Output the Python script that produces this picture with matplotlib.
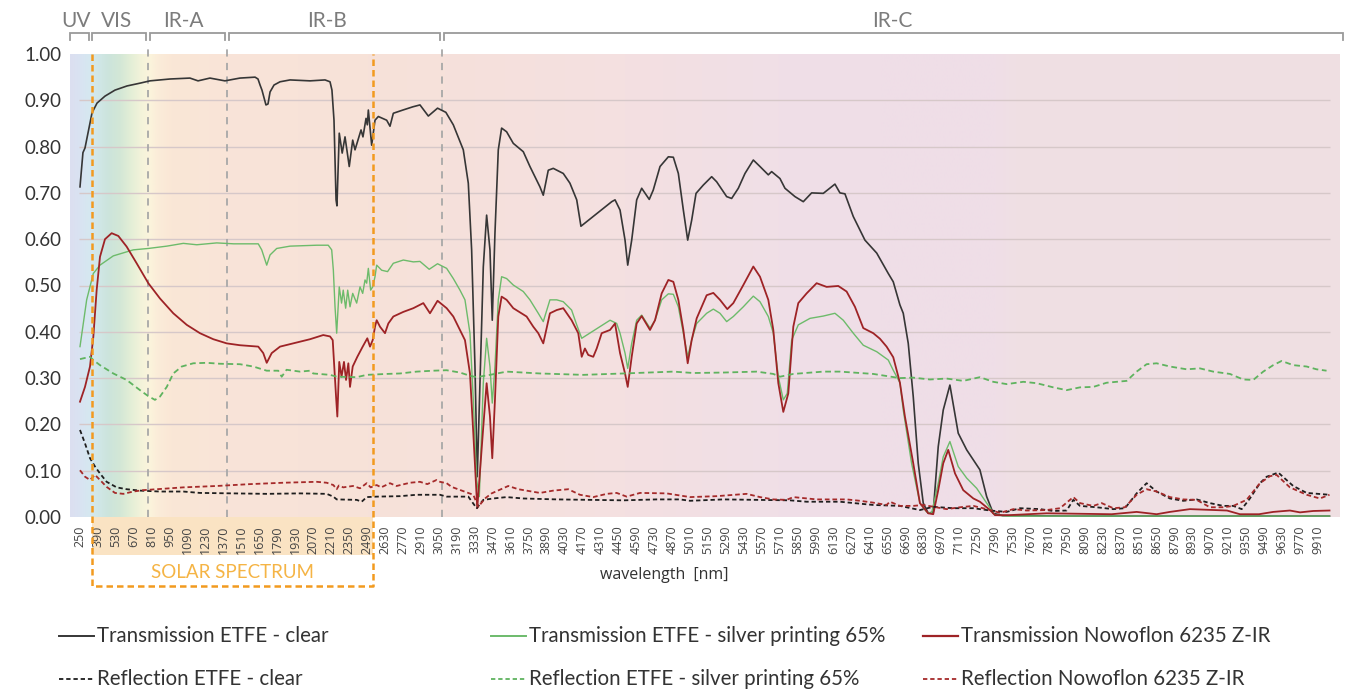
import numpy as np
import matplotlib
matplotlib.use("Agg")
import matplotlib.pyplot as plt
from matplotlib.colors import to_rgb

# ---------------------------------------------------------------------------
# Spectral data: wavelength [nm] -> fraction of incident radiation
# ---------------------------------------------------------------------------
t_clear_wl = [250, 273, 289, 312, 344, 383, 445, 523, 617, 718, 796, 952, 1108, 1171, 1264,
              1381, 1498, 1616, 1639, 1655, 1670, 1686, 1701, 1717, 1733, 1764, 1811, 1889,
              2045, 2162, 2201, 2216, 2232, 2240, 2248, 2255, 2273, 2296, 2318, 2351, 2378,
              2396, 2443, 2458, 2482, 2492, 2500, 2526, 2552, 2578, 2643, 2669, 2695, 2770,
              2848, 2903, 2968, 3040, 3105, 3163, 3215, 3241, 3280, 3306, 3332, 3350, 3397,
              3423, 3449, 3467, 3488, 3514, 3540, 3579, 3631, 3709, 3761, 3839, 3865, 3904,
              3943, 4021, 4073, 4126, 4159, 4399, 4425, 4464, 4503, 4524, 4555, 4594, 4633,
              4692, 4723, 4776, 4841, 4880, 4919, 4958, 4992, 5023, 5057, 5114, 5179, 5218,
              5296, 5335, 5387, 5439, 5504, 5556, 5621, 5647, 5712, 5751, 5829, 5894, 5959,
              6050, 6141, 6180, 6219, 6284, 6375, 6467, 6557, 6596, 6648, 6674, 6713, 6752,
              6791, 6830, 6869, 6908, 6947, 6986, 7038, 7103, 7169, 7272, 7325, 7376, 7450,
              8000, 9000, 10000]
t_clear = [0.713, 0.787, 0.797, 0.829, 0.873, 0.894, 0.909, 0.922, 0.931, 0.937, 0.942, 0.946,
           0.948, 0.942, 0.948, 0.942, 0.948, 0.950, 0.946, 0.933, 0.922, 0.905, 0.890, 0.892,
           0.918, 0.933, 0.940, 0.944, 0.942, 0.944, 0.940, 0.922, 0.857, 0.771, 0.685, 0.672,
           0.829, 0.786, 0.821, 0.757, 0.814, 0.793, 0.836, 0.821, 0.861, 0.847, 0.879, 0.803,
           0.857, 0.865, 0.857, 0.844, 0.872, 0.879, 0.886, 0.890, 0.866, 0.883, 0.874, 0.847,
           0.811, 0.793, 0.721, 0.577, 0.325, 0.087, 0.540, 0.652, 0.577, 0.425, 0.613, 0.793,
           0.840, 0.832, 0.807, 0.789, 0.757, 0.713, 0.695, 0.749, 0.753, 0.742, 0.721, 0.685,
           0.628, 0.681, 0.685, 0.663, 0.598, 0.544, 0.598, 0.685, 0.710, 0.686, 0.706, 0.757,
           0.778, 0.777, 0.742, 0.663, 0.598, 0.641, 0.699, 0.717, 0.735, 0.724, 0.692, 0.688,
           0.710, 0.742, 0.771, 0.757, 0.739, 0.746, 0.731, 0.710, 0.692, 0.681, 0.700, 0.699,
           0.719, 0.700, 0.698, 0.649, 0.598, 0.570, 0.526, 0.508, 0.458, 0.440, 0.375, 0.260,
           0.116, 0.030, 0.008, 0.011, 0.152, 0.231, 0.285, 0.181, 0.145, 0.102, 0.044, 0.008,
           0.003, 0.002, 0.002, 0.002]

t_silver_wl = [250, 302, 354, 406, 510, 666, 783, 927, 1056, 1161, 1317, 1450, 1641, 1668, 1694,
               1707, 1733, 1785, 1889, 2097, 2187, 2214, 2227, 2240, 2253, 2273, 2291, 2304,
               2323, 2339, 2357, 2378, 2409, 2435, 2456, 2474, 2487, 2500, 2518, 2534, 2552,
               2565, 2604, 2650, 2695, 2773, 2851, 2903, 2975, 3040, 3111, 3163, 3215, 3254,
               3293, 3319, 3345, 3366, 3397, 3423, 3449, 3467, 3488, 3514, 3540, 3579, 3631,
               3709, 3761, 3826, 3865, 3917, 3970, 4021, 4086, 4126, 4165, 4386, 4438, 4464,
               4503, 4524, 4555, 4594, 4633, 4698, 4737, 4789, 4841, 4880, 4919, 4958, 4992,
               5023, 5062, 5140, 5192, 5244, 5296, 5348, 5426, 5504, 5556, 5621, 5660, 5699,
               5738, 5769, 5803, 5855, 5946, 6050, 6141, 6206, 6284, 6362, 6467, 6557, 6596,
               6648, 6674, 6739, 6804, 6856, 6895, 6947, 6986, 7038, 7103, 7169, 7247, 7325,
               7390, 7500, 8500, 10000]
t_silver = [0.368, 0.469, 0.526, 0.544, 0.564, 0.577, 0.580, 0.585, 0.591, 0.588, 0.592, 0.590,
            0.590, 0.577, 0.555, 0.544, 0.566, 0.580, 0.585, 0.587, 0.587, 0.577, 0.533, 0.454,
            0.397, 0.497, 0.462, 0.490, 0.451, 0.490, 0.454, 0.483, 0.462, 0.497, 0.483, 0.512,
            0.505, 0.537, 0.490, 0.497, 0.519, 0.544, 0.533, 0.530, 0.548, 0.555, 0.551, 0.552,
            0.535, 0.547, 0.537, 0.515, 0.490, 0.469, 0.397, 0.253, 0.080, 0.044, 0.289, 0.386,
            0.325, 0.246, 0.325, 0.469, 0.519, 0.515, 0.501, 0.487, 0.469, 0.440, 0.422, 0.469,
            0.469, 0.465, 0.447, 0.415, 0.386, 0.425, 0.418, 0.397, 0.354, 0.321, 0.375, 0.425,
            0.436, 0.408, 0.425, 0.469, 0.482, 0.481, 0.454, 0.397, 0.346, 0.382, 0.418, 0.440,
            0.449, 0.440, 0.422, 0.433, 0.454, 0.477, 0.465, 0.433, 0.397, 0.303, 0.253, 0.267,
            0.382, 0.415, 0.429, 0.434, 0.440, 0.425, 0.397, 0.371, 0.357, 0.339, 0.317, 0.290,
            0.231, 0.116, 0.030, 0.011, 0.008, 0.073, 0.130, 0.163, 0.109, 0.084, 0.062, 0.030,
            0.004, 0.002, 0.002, 0.002]

t_nowo_wl = [250, 289, 328, 354, 380, 406, 445, 497, 549, 614, 692, 783, 874, 978, 1083, 1186,
             1290, 1395, 1498, 1641, 1680, 1707, 1746, 1811, 1914, 2045, 2148, 2201, 2222, 2234,
             2248, 2258, 2273, 2291, 2310, 2326, 2344, 2357, 2378, 2414, 2456, 2492, 2513, 2534,
             2552, 2565, 2591, 2630, 2656, 2695, 2773, 2851, 2929, 2981, 3040, 3111, 3163, 3215,
             3254, 3293, 3319, 3350, 3397, 3423, 3449, 3467, 3488, 3514, 3540, 3579, 3631, 3735,
             3787, 3826, 3865, 3917, 3970, 4021, 4086, 4138, 4165, 4190, 4216, 4255, 4282, 4321,
             4386, 4425, 4464, 4503, 4524, 4555, 4594, 4633, 4698, 4737, 4789, 4841, 4880, 4919,
             4958, 4992, 5023, 5062, 5140, 5192, 5244, 5301, 5348, 5426, 5504, 5556, 5621, 5660,
             5699, 5738, 5777, 5816, 5855, 5920, 5998, 6076, 6167, 6232, 6297, 6362, 6440, 6492,
             6544, 6596, 6648, 6687, 6752, 6804, 6869, 6908, 6947, 6986, 7025, 7078, 7142, 7221,
             7272, 7351, 7390, 7500, 7793, 8300, 8495, 8651, 8755, 8911, 9093, 9200, 9301, 9450,
             9561, 9691, 9770, 9873, 10000]
t_nowo = [0.249, 0.281, 0.325, 0.389, 0.490, 0.562, 0.600, 0.613, 0.607, 0.584, 0.548, 0.505,
          0.472, 0.440, 0.415, 0.397, 0.384, 0.375, 0.371, 0.368, 0.354, 0.333, 0.354, 0.368,
          0.375, 0.384, 0.393, 0.390, 0.382, 0.325, 0.260, 0.217, 0.335, 0.303, 0.335, 0.296,
          0.332, 0.281, 0.325, 0.346, 0.368, 0.386, 0.368, 0.382, 0.411, 0.425, 0.411, 0.397,
          0.418, 0.433, 0.443, 0.451, 0.462, 0.440, 0.467, 0.451, 0.433, 0.404, 0.382, 0.310,
          0.181, 0.019, 0.195, 0.289, 0.217, 0.127, 0.253, 0.433, 0.476, 0.469, 0.451, 0.433,
          0.411, 0.397, 0.375, 0.440, 0.447, 0.451, 0.425, 0.397, 0.346, 0.364, 0.350, 0.346,
          0.364, 0.397, 0.404, 0.418, 0.354, 0.310, 0.281, 0.346, 0.418, 0.434, 0.404, 0.425,
          0.483, 0.512, 0.508, 0.469, 0.404, 0.332, 0.382, 0.429, 0.479, 0.484, 0.469, 0.449,
          0.462, 0.501, 0.541, 0.519, 0.469, 0.404, 0.289, 0.227, 0.267, 0.411, 0.462, 0.483,
          0.505, 0.497, 0.499, 0.487, 0.454, 0.408, 0.397, 0.385, 0.368, 0.345, 0.290, 0.217,
          0.116, 0.030, 0.008, 0.006, 0.058, 0.116, 0.145, 0.094, 0.058, 0.040, 0.033, 0.015,
          0.004, 0.004, 0.008, 0.006, 0.011, 0.006, 0.011, 0.017, 0.015, 0.014, 0.006, 0.006,
          0.011, 0.014, 0.010, 0.013, 0.014]

r_clear_wl = [250, 289, 328, 367, 406, 458, 536, 614, 718, 874, 1056, 1186, 1446, 1707, 1967,
              2175, 2227, 2253, 2409, 2448, 2487, 2565, 2747, 2877, 3007, 3059, 3111, 3189, 3280,
              3345, 3397, 3475, 3579, 3709, 3970, 4230, 4490, 4750, 4932, 5010, 5270, 5530, 5790,
              5920, 6180, 6440, 6648, 6804, 6908, 7064, 7221, 7351, 7481, 7585, 7741, 7845, 7949,
              8001, 8053, 8183, 8313, 8404, 8495, 8573, 8651, 8755, 8859, 8963, 9067, 9171, 9249,
              9315, 9379, 9457, 9510, 9600, 9717, 9822, 10000]
r_clear = [0.188, 0.159, 0.127, 0.109, 0.094, 0.076, 0.064, 0.060, 0.057, 0.055, 0.055, 0.052,
           0.051, 0.050, 0.051, 0.050, 0.044, 0.038, 0.037, 0.033, 0.043, 0.044, 0.045, 0.048,
           0.048, 0.048, 0.044, 0.044, 0.044, 0.019, 0.037, 0.040, 0.043, 0.040, 0.038, 0.037,
           0.036, 0.038, 0.038, 0.035, 0.038, 0.037, 0.036, 0.033, 0.033, 0.026, 0.024, 0.015,
           0.022, 0.019, 0.019, 0.014, 0.011, 0.019, 0.017, 0.013, 0.014, 0.037, 0.024, 0.021,
           0.017, 0.019, 0.051, 0.073, 0.055, 0.040, 0.035, 0.038, 0.030, 0.024, 0.024, 0.017,
           0.040, 0.073, 0.087, 0.096, 0.067, 0.052, 0.048]

r_silver_wl = [250, 328, 354, 406, 510, 614, 718, 783, 835, 874, 927, 978, 1044, 1134, 1239,
               1342, 1498, 1602, 1707, 1797, 1824, 1862, 1967, 2045, 2070, 2201, 2253, 2409,
               2487, 2643, 2747, 2877, 3007, 3111, 3215, 3293, 3345, 3449, 3579, 3839, 4177,
               4490, 4880, 5036, 5270, 5530, 5660, 5712, 5816, 6050, 6180, 6440, 6648, 6752,
               6882, 7012, 7142, 7272, 7376, 7481, 7611, 7715, 7845, 7949, 8053, 8157, 8261,
               8417, 8495, 8573, 8651, 8755, 8885, 8989, 9093, 9223, 9327, 9405, 9483, 9561,
               9626, 9717, 9822, 9899, 9977]
r_silver = [0.341, 0.346, 0.339, 0.328, 0.310, 0.296, 0.274, 0.261, 0.253, 0.260, 0.281, 0.310,
            0.325, 0.332, 0.333, 0.331, 0.330, 0.325, 0.316, 0.316, 0.303, 0.318, 0.314, 0.316,
            0.310, 0.307, 0.303, 0.302, 0.307, 0.309, 0.310, 0.314, 0.316, 0.317, 0.312, 0.305,
            0.302, 0.307, 0.314, 0.310, 0.307, 0.310, 0.314, 0.311, 0.312, 0.314, 0.309, 0.303,
            0.309, 0.314, 0.314, 0.309, 0.300, 0.301, 0.297, 0.299, 0.294, 0.302, 0.292, 0.287,
            0.292, 0.289, 0.280, 0.274, 0.280, 0.281, 0.290, 0.294, 0.314, 0.330, 0.332, 0.325,
            0.319, 0.321, 0.314, 0.309, 0.297, 0.296, 0.314, 0.328, 0.337, 0.328, 0.325, 0.319,
            0.316]

r_nowo_wl = [250, 289, 328, 367, 406, 458, 523, 588, 666, 744, 848, 1056, 1317, 1576, 1836, 2097,
             2175, 2227, 2253, 2270, 2304, 2380, 2435, 2487, 2518, 2565, 2600, 2669, 2720, 2825,
             2903, 2960, 3033, 3059, 3111, 3150, 3319, 3358, 3410, 3462, 3592, 3670, 3839, 3943,
             4060, 4151, 4255, 4360, 4438, 4516, 4620, 4828, 5010, 5218, 5452, 5556, 5660, 5764,
             5816, 5998, 6232, 6336, 6440, 6544, 6570, 6648, 6752, 6830, 7012, 7116, 7221, 7325,
             7429, 7533, 7637, 7793, 7897, 8001, 8053, 8157, 8222, 8313, 8404, 8495, 8573, 8651,
             8755, 8859, 8963, 9067, 9171, 9249, 9353, 9457, 9535, 9587, 9691, 9822, 9925, 10000]
r_nowo = [0.101, 0.087, 0.080, 0.091, 0.080, 0.065, 0.052, 0.050, 0.055, 0.058, 0.060, 0.064,
          0.067, 0.071, 0.074, 0.076, 0.074, 0.069, 0.060, 0.068, 0.064, 0.067, 0.062, 0.073,
          0.064, 0.069, 0.064, 0.073, 0.067, 0.074, 0.076, 0.071, 0.080, 0.076, 0.073, 0.065,
          0.048, 0.022, 0.040, 0.051, 0.067, 0.060, 0.052, 0.057, 0.060, 0.048, 0.043, 0.050,
          0.052, 0.044, 0.052, 0.051, 0.043, 0.045, 0.050, 0.043, 0.038, 0.037, 0.043, 0.038,
          0.038, 0.035, 0.031, 0.026, 0.033, 0.024, 0.024, 0.026, 0.017, 0.021, 0.024, 0.017,
          0.009, 0.017, 0.014, 0.015, 0.019, 0.043, 0.030, 0.024, 0.030, 0.019, 0.021, 0.048,
          0.060, 0.055, 0.043, 0.038, 0.037, 0.021, 0.021, 0.024, 0.037, 0.073, 0.088, 0.091,
          0.064, 0.048, 0.040, 0.048]

series_labels = ["Transmission ETFE - clear",
                 "Transmission ETFE - silver printing 65%",
                 "Transmission Nowoflon 6235 Z-IR",
                 "Reflection ETFE - clear",
                 "Reflection ETFE - silver printing 65%",
                 "Reflection Nowoflon 6235 Z-IR"]

# Spectral bands shown above the plot: (label, start, end) in nm
band_names = ["UV", "VIS", "IR-A", "IR-B", "IR-C"]
band_ranges = [(172, 320), (344, 765), (796, 1381), (1413, 3059), (3090, 10105)]
band_label_x = [219, 539, 1054, 2177, 6586]
band_limits = [780, 1400, 3075]          # dashed separators
solar_range = (340, 2540)                 # solar spectrum box

tick_wl = list(range(250, 9911, 140))
ytick_vals = [0.0, 0.1, 0.2, 0.3, 0.4, 0.5, 0.6, 0.7, 0.8, 0.9, 1.0]

# ---------------------------------------------------------------------------
W, H = 1351, 691
fig = plt.figure(figsize=(W / 100, H / 100), dpi=100)
fig.patch.set_facecolor("white")

X0, X1 = 172, 10082
ax = fig.add_axes([70 / W, (H - 517) / H, 1270 / W, 463 / H])
ax.set_facecolor("none")
for s in ax.spines.values():
    s.set_visible(False)

# background colour wash of the electromagnetic spectrum
bg_wl = [172, 250, 330, 390, 470, 560, 650, 730, 790, 860, 960, 1400, 2500, 3100, 4500,
         5700, 6500, 7400, 7550, 10082]
bg_col = ["#dcdff0", "#d9e3f2", "#d5e8f0", "#d1e7e8", "#cce4dc", "#d3e7d6", "#e4efd7",
          "#f4f3da", "#fbf4dc", "#fbecd9", "#fae7d6", "#f9e4d8", "#f7e2d9", "#f6e1db",
          "#f4e0e1", "#f0dfe7", "#efdee8", "#efdee7", "#f0e0e4", "#efdfe2"]
gx = np.linspace(X0, X1, 2400)
rgb = np.stack([np.interp(gx, bg_wl, [to_rgb(c)[i] for c in bg_col]) for i in range(3)], axis=-1)
ax.imshow(rgb[np.newaxis, :, :], extent=[X0, X1, 0, 1], aspect="auto", zorder=0,
          interpolation="bilinear")

# horizontal gridlines
ax.hlines([0.1, 0.2, 0.3, 0.4, 0.5, 0.6, 0.7, 0.8, 0.9], 240, 10003, colors="#d6c8c9",
          linewidth=1.0, zorder=1)

# band separators and brackets above the plot
ax.vlines(band_limits, 0, 1.024, colors="#a8a8a8", linestyles=(0, (4, 3.5)), linewidth=1.3,
          zorder=1.5, clip_on=False)
yb, yt = 1.045, 1.030
for (a, b), name, lx in zip(band_ranges, band_names, band_label_x):
    ax.plot([a, a, b, b], [yt, yb, yb, yt], color="#9a9a9a", lw=1.3, clip_on=False,
            solid_joinstyle="miter", zorder=3)
    ax.text(lx, 1.071, name, ha="center", va="center", fontsize=15, color="#7c7c7c",
            family="Lato", clip_on=False)

# data series
ax.plot(t_clear_wl, t_clear, color="#363636", lw=1.2, zorder=5)
ax.plot(t_silver_wl, t_silver, color="#6dbb6b", lw=1.0, zorder=5)
ax.plot(t_nowo_wl, t_nowo, color="#9e2326", lw=1.3, zorder=5)
ax.plot(r_clear_wl, r_clear, color="#1e1e1e", lw=1.3, ls=(0, (2.4, 1.6)), zorder=5)
ax.plot(r_silver_wl, r_silver, color="#5fb35f", lw=1.3, ls=(0, (3.2, 2.0)), zorder=5)
ax.plot(r_nowo_wl, r_nowo, color="#a52a2a", lw=1.3, ls=(0, (2.6, 1.6)), zorder=5)

# solar spectrum box
sa, sb = solar_range
ax.fill_between([sa, sb], -0.082, 0, color="#fae3c3", zorder=0.5, clip_on=False, lw=0)
ax.plot([sa, sa, sb, sb], [1.0, -0.149, -0.149, 1.0], color="#f29a1f", lw=1.8,
        ls=(0, (2.6, 1.6)), clip_on=False, zorder=6)
ax.text((sa + sb) / 2, -0.119, "SOLAR SPECTRUM", ha="center", va="center", fontsize=13.5,
        color="#f5b445", family="Lato", clip_on=False)

ax.set_xlim(X0, X1)
ax.set_ylim(0, 1.0)
ax.set_xticks(tick_wl)
ax.set_xticklabels([str(t) for t in tick_wl], rotation=90, fontsize=9, color="#444444",
                   family="Open Sans")
ax.set_yticks(ytick_vals)
ax.set_yticklabels([f"{v:.2f}" for v in ytick_vals], fontsize=13.5, color="#333333",
                   family="Lato")
ax.tick_params(axis="x", length=0, pad=6)
ax.tick_params(axis="y", length=0, pad=6)
ax.text(4807, -0.125, "wavelength  [nm]", ha="center", va="center", fontsize=11.5,
        color="#333333", family="Open Sans", clip_on=False)

# legend, laid out in three columns below the chart
lax = fig.add_axes([0, 0, 1, 1])
lax.set_xlim(0, W)
lax.set_ylim(H, 0)
lax.axis("off")
lax.patch.set_visible(False)
leg_styles = [dict(color="#363636", lw=1.4, ls="-"),
              dict(color="#6dbb6b", lw=1.4, ls="-"),
              dict(color="#9e2326", lw=1.6, ls="-"),
              dict(color="#1e1e1e", lw=1.3, ls=(0, (2.4, 1.6))),
              dict(color="#5fb35f", lw=1.3, ls=(0, (2.4, 1.6))),
              dict(color="#a52a2a", lw=1.3, ls=(0, (2.4, 1.6)))]
col_x = [59, 491, 923]
row_y = [636, 679]
for i, (lab, st) in enumerate(zip(series_labels, leg_styles)):
    cx, ry = col_x[i % 3], row_y[i // 3]
    lax.plot([cx, cx + 35], [ry, ry], **st)
    lax.text(cx + 38, ry, lab, ha="left", va="center", fontsize=14.8, color="#333333",
             family="Lato")

fig.savefig("out.png", dpi=100, facecolor="white")
